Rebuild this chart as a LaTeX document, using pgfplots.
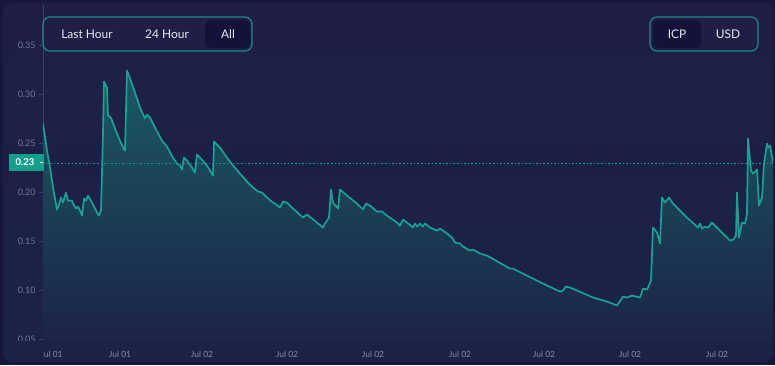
\documentclass[border=0pt]{standalone}
\usepackage{pgfplots}
\pgfplotsset{compat=1.18}
\usepackage{fontspec}
\setmainfont{Lato}
\definecolor{outer}{HTML}{17173C}
\definecolor{card}{HTML}{1F1F46}
\definecolor{cardbot}{HTML}{1B2247}
\definecolor{lineteal}{HTML}{17A394}
\definecolor{dotteal}{HTML}{139C8E}
\definecolor{labelteal}{HTML}{12A08C}
\definecolor{filltop}{HTML}{1A5A64}
\definecolor{fillbot}{HTML}{1C2348}
\definecolor{axisgray}{HTML}{3B3E66}
\definecolor{ticklab}{HTML}{72759A}
\definecolor{xlab}{HTML}{8A8CA8}
\definecolor{btnborder}{HTML}{1B8A87}
\definecolor{btnfill}{HTML}{12123A}
\definecolor{btntext}{HTML}{E8E8F0}

\pgfplotstableread{
x y
43 0.2704
47 0.2429
50 0.2255
53 0.2051
57 0.1827
58 0.1847
61 0.1949
63 0.1898
66 0.2000
68 0.1918
72 0.1918
73 0.1888
76 0.1837
78 0.1857
80 0.1816
82 0.1765
84 0.1939
86 0.1918
88 0.1969
92 0.1898
95 0.1837
97 0.1796
99 0.1765
101 0.1816
103 0.2602
104 0.3133
107 0.3071
108 0.2786
111 0.2765
115 0.2653
120 0.2531
124 0.2439
125 0.2429
127 0.3245
130 0.3163
135 0.3020
140 0.2867
145 0.2755
147 0.2796
150 0.2765
155 0.2663
162 0.2531
167 0.2469
173 0.2357
177 0.2296
180 0.2276
182 0.2235
184 0.2357
187 0.2327
192 0.2255
195 0.2204
197 0.2388
200 0.2357
207 0.2276
213 0.2173
214 0.2520
220 0.2459
227 0.2357
233 0.2276
240 0.2194
247 0.2112
253 0.2051
258 0.2010
262 0.2000
267 0.1949
273 0.1898
275 0.1888
280 0.1847
283 0.1908
287 0.1898
293 0.1837
303 0.1745
307 0.1776
312 0.1735
323 0.1643
325 0.1684
329 0.1745
331 0.2031
333 0.1898
338 0.1837
340 0.2031
347 0.1969
357 0.1888
363 0.1827
366 0.1888
370 0.1867
377 0.1806
382 0.1806
387 0.1765
397 0.1694
400 0.1663
403 0.1724
407 0.1694
413 0.1643
415 0.1684
417 0.1653
420 0.1684
423 0.1653
425 0.1684
430 0.1643
437 0.1612
440 0.1633
447 0.1582
452 0.1541
455 0.1490
460 0.1480
463 0.1449
470 0.1408
473 0.1418
480 0.1378
487 0.1357
510 0.1224
513 0.1224
543 0.1071
560 0.0990
563 0.1000
566 0.1041
570 0.1031
593 0.0929
607 0.0888
617 0.0847
619 0.0878
623 0.0939
627 0.0929
632 0.0949
640 0.0929
643 0.1020
647 0.1010
648 0.1031
651 0.1102
653 0.1643
657 0.1592
660 0.1480
662 0.1949
665 0.1898
669 0.1949
673 0.1888
677 0.1847
687 0.1745
698 0.1643
700 0.1684
702 0.1633
705 0.1653
708 0.1643
712 0.1694
720 0.1612
727 0.1541
730 0.1510
733 0.1520
736 0.1561
737 0.2000
739 0.1541
742 0.1694
745 0.1684
747 0.1786
748 0.2551
751 0.2224
753 0.2194
757 0.2235
759 0.1867
762 0.1949
764 0.2296
767 0.2500
768 0.2459
770 0.2480
773 0.2306
}\pricedata

\begin{document}
\begin{tikzpicture}[x=1bp,y=1bp]
\fill[outer] (0,0) rectangle (775,365);
\useasboundingbox (0,0) rectangle (775,365);
\shade[top color=card, bottom color=cardbot, rounded corners=10bp] (3,3) rectangle (773,362);

\begin{scope}
\clip (43,0) -- (775,0) -- (775,365) -- (0,365) -- (0,24.3) -- (43,24.3) -- cycle;
\begin{axis}[
  at={(43,24)}, anchor=south west,
  scale only axis, width=730bp, height=336bp,
  xmin=43, xmax=773, ymin=0.048, ymax=0.391,
  separate axis lines,
  axis x line*=bottom, axis y line*=left,
  x axis line style={draw=none},
  y axis line style={draw=axisgray, line width=0.8bp, -},
  xtick={51.5,120,202,287,373,460,544,630,717},
  xticklabels={Jul 01,Jul 01,Jul 02,Jul 02,Jul 02,Jul 02,Jul 02,Jul 02,Jul 02},
  xtick style={draw=none},
  ytick={0.05,0.1,0.15,0.2,0.25,0.3,0.35},
  yticklabels={0.05,0.10,0.15,0.20,0.25,0.30,0.35},
  ytick style={draw=axisgray, line width=0.8bp},
  tick align=outside, major tick length=4bp,
  xticklabel style={font=\fontsize{8.5}{10}\selectfont, text=xlab, yshift=-2bp},
  yticklabel style={font=\fontsize{9}{10}\selectfont, text=ticklab},
  clip=true,
]
\addplot[draw=none, top color=filltop, bottom color=fillbot, forget plot] table[x=x,y=y]{\pricedata} \closedcycle;
\addplot[dotteal, line width=1.1bp, dash pattern=on 1.6bp off 2bp, forget plot] coordinates {(43,0.23) (773,0.23)};
\addplot[lineteal, line width=1.7bp, line join=round, forget plot] table[x=x,y=y]{\pricedata};
\end{axis}
\end{scope}

% current value label
\fill[labelteal] (9,194) rectangle (44,211);
\node[text=white, font=\bfseries\fontsize{9.5}{10}\selectfont, inner sep=0] at (25,202.5) {0.23};
\draw[white, line width=1bp] (39.5,202.5) -- (43,202.5);

% range buttons
\draw[btnborder, line width=1.2bp, rounded corners=7bp] (43,348) rectangle (252,314);
\fill[btnfill, rounded corners=6bp] (205,345) rectangle (250,317);
\node[text=btntext, font=\fontsize{12}{14}\selectfont, anchor=base, inner sep=0] at (87,326.8) {Last Hour};
\node[text=btntext, font=\fontsize{12}{14}\selectfont, anchor=base, inner sep=0] at (167,326.8) {24 Hour};
\node[text=btntext, font=\fontsize{12}{14}\selectfont, anchor=base, inner sep=0] at (228,326.8) {All};

% currency buttons
\draw[btnborder, line width=1.2bp, rounded corners=7bp] (650,348) rectangle (758,314);
\fill[btnfill, rounded corners=6bp] (653,345) rectangle (701,317);
\node[text=btntext, font=\fontsize{12}{14}\selectfont, anchor=base, inner sep=0] at (677,326.8) {ICP};
\node[text=btntext, font=\fontsize{12}{14}\selectfont, anchor=base, inner sep=0] at (728,326.8) {USD};
\end{tikzpicture}
\end{document}
